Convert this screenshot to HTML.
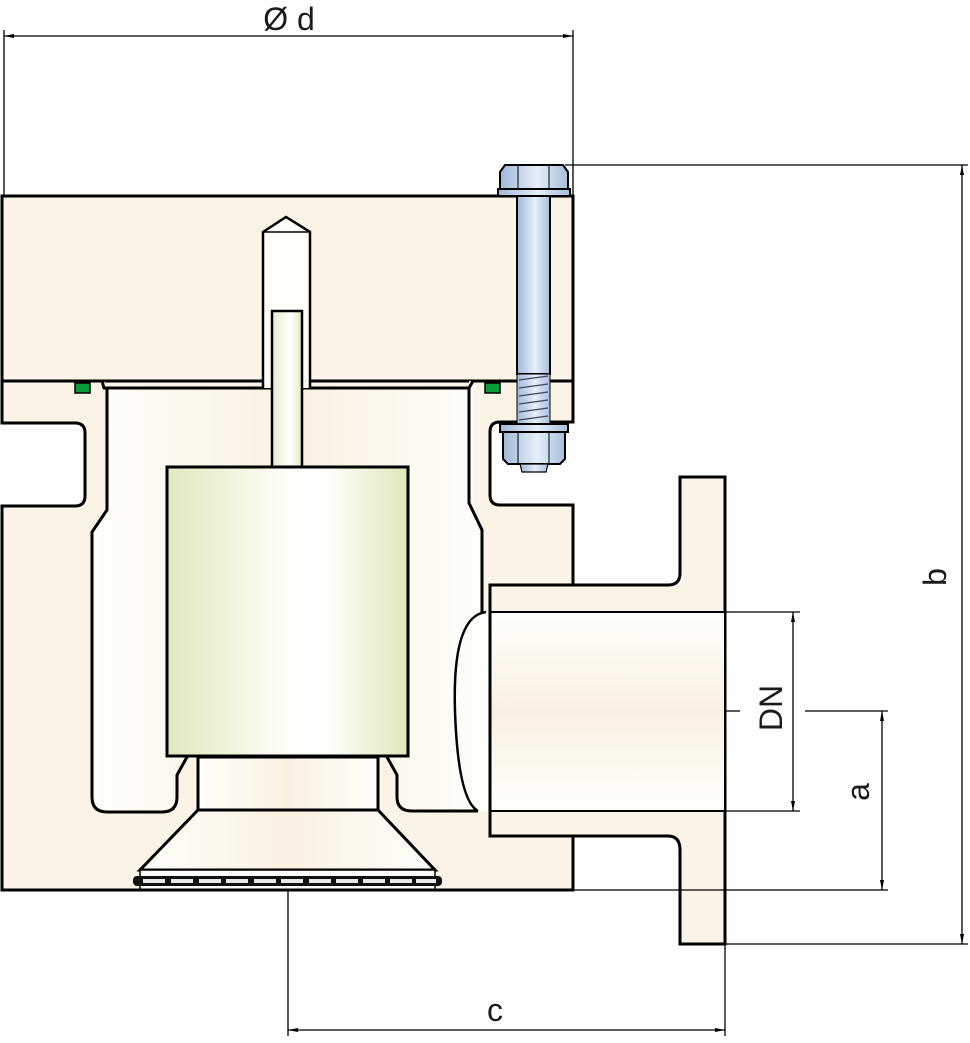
<!DOCTYPE html>
<html><head><meta charset="utf-8"><style>
html,body{margin:0;padding:0;background:#fff;}
svg{display:block;}
text{font-family:"Liberation Sans",sans-serif;fill:#1a1a1a;}
</style></head><body>
<svg width="970" height="1043" viewBox="0 0 970 1043" xmlns="http://www.w3.org/2000/svg">
<defs>
<radialGradient id="cav" cx="0.5" cy="0.45" r="0.6">
<stop offset="0" stop-color="#f8efdf"/><stop offset="1" stop-color="#fffefb"/></radialGradient>
<linearGradient id="cavh" x1="0" x2="1" y1="0" y2="0">
<stop offset="0" stop-color="#fffefb"/><stop offset="0.5" stop-color="#f9f0e0"/><stop offset="1" stop-color="#fffefb"/></linearGradient>
<linearGradient id="bore" x1="0" x2="0" y1="0" y2="1">
<stop offset="0" stop-color="#fffefb"/><stop offset="0.5" stop-color="#f9f0e0"/><stop offset="1" stop-color="#fffefb"/></linearGradient>
<linearGradient id="grn" x1="0" x2="1" y1="0" y2="0">
<stop offset="0" stop-color="#e0e9bc"/><stop offset="0.5" stop-color="#fdfef8"/><stop offset="0.65" stop-color="#ffffff"/><stop offset="1" stop-color="#dfe8b8"/></linearGradient>
<linearGradient id="rod" x1="0" x2="1" y1="0" y2="0">
<stop offset="0" stop-color="#e6edc8"/><stop offset="0.6" stop-color="#ffffff"/><stop offset="1" stop-color="#e2eac0"/></linearGradient>
<linearGradient id="bolt" x1="0" x2="1" y1="0" y2="0">
<stop offset="0" stop-color="#9fb7d8"/><stop offset="0.55" stop-color="#e6eff9"/><stop offset="1" stop-color="#a6bddb"/></linearGradient>
</defs>

<!-- top cover -->
<rect x="2" y="196" width="571" height="185" fill="#faf3e6" stroke="#000" stroke-width="3"/>

<!-- body -->
<path d="M2,381 H573 V422 H500 Q490,422 490,432 V495 Q490,505 500,505 H573 V585 H490 V836 H573 V890 H2 V506 H75 Q85,506 85,496 V433 Q85,423 75,423 H2 Z" fill="#faf3e6" stroke="#000" stroke-width="3"/>

<!-- cavity -->
<path d="M104,381 V388 H469 V381 H473 V503 L482,530 V612 H490 V811 H475 H410 Q397,811 397,797 V775 L387,757 H187 L177,775 V797 Q177,812 162,812 H107 Q92,812 92,797 V532 L107,510 V388" fill="url(#cavh)" stroke="none"/>
<path d="M102,381 L104,388 H469 L473,381" fill="none" stroke="#000" stroke-width="3"/>
<path d="M107,388 V510 L92,532 V797 Q92,812 107,812 H162 Q177,812 177,797 V775 L187,757" fill="none" stroke="#000" stroke-width="3"/>
<path d="M469,388 V503 L482,530 V612" fill="none" stroke="#000" stroke-width="3"/>
<path d="M387,757 L397,775 V797 Q397,811 412,811 H478" fill="none" stroke="#000" stroke-width="3"/>
<path d="M486,612 Q452,616 455,711 Q458,800 478,811" fill="none" stroke="#000" stroke-width="2.5"/>

<!-- seals -->
<rect x="75" y="383" width="15" height="10" fill="#0a9a3a" stroke="#000" stroke-width="1.5"/>
<rect x="485" y="383" width="15" height="10" fill="#0a9a3a" stroke="#000" stroke-width="1.5"/>

<!-- flange + pipe -->
<path d="M490,585 H668 Q680,585 680,573 V477 H725 V944 H680 V850 Q680,836 668,836 H490 Z" fill="#faf3e6" stroke="#000" stroke-width="3"/>
<rect x="490" y="612" width="235" height="199" fill="url(#bore)" stroke="#000" stroke-width="2"/>
<line x1="490" y1="585" x2="490" y2="836" stroke="#000" stroke-width="3"/>

<!-- center stem bore -->
<path d="M263,388 V232 L286,217 L310,232 V388" fill="#fffdf8" stroke="#000" stroke-width="2.5"/>
<line x1="263" y1="232" x2="310" y2="232" stroke="#000" stroke-width="1.5"/>
<rect x="272" y="311" width="30" height="158" fill="url(#rod)" stroke="#000" stroke-width="2.5"/>

<!-- cylinder -->
<rect x="167" y="467" width="241" height="289" fill="url(#grn)" stroke="#000" stroke-width="3"/>
<rect x="226" y="756" width="124" height="3" fill="#000"/>
<rect x="271" y="757" width="33" height="13" fill="#fff" stroke="#000" stroke-width="2"/>
<line x1="278" y1="757" x2="278" y2="770" stroke="#000" stroke-width="1"/>
<line x1="297" y1="757" x2="297" y2="770" stroke="#000" stroke-width="1"/>

<!-- cone -->
<rect x="198" y="757" width="180" height="53" fill="url(#cavh)" stroke="#000" stroke-width="3"/>
<path d="M198,810 H378 L435,870 H140 Z" fill="url(#cavh)" stroke="#000" stroke-width="3"/>
<rect x="140" y="870" width="295" height="20" fill="#fff" stroke="#000" stroke-width="1.5"/>
<rect x="133" y="876" width="309" height="10" rx="4" fill="#111"/>
<g fill="#e8e8e8">
<rect x="143" y="879" width="22" height="4"/><rect x="171" y="879" width="22" height="4"/><rect x="199" y="879" width="22" height="4"/><rect x="226" y="879" width="22" height="4"/><rect x="254" y="879" width="22" height="4"/><rect x="281" y="879" width="22" height="4"/><rect x="309" y="879" width="22" height="4"/><rect x="336" y="879" width="22" height="4"/><rect x="363" y="879" width="22" height="4"/><rect x="390" y="879" width="22" height="4"/><rect x="416" y="879" width="20" height="4"/>
</g>
<line x1="2" y1="890" x2="573" y2="890" stroke="#000" stroke-width="3"/>

<!-- bolt -->
<rect x="517" y="196" width="33" height="178" fill="url(#bolt)" stroke="#000" stroke-width="2"/>
<rect x="517" y="374" width="33" height="50" fill="url(#bolt)" stroke="#000" stroke-width="1"/>
<g stroke="#445" stroke-width="1.2" fill="none">
<path d="M519,380 L548,376 M519,388 L548,384 M519,396 L548,392 M519,404 L548,400 M519,412 L548,408 M519,420 L548,416"/>
</g>
<path d="M505,165 H563 L568,172 V189 H500 V172 Z" fill="url(#bolt)" stroke="#000" stroke-width="2"/>
<line x1="518" y1="166" x2="518" y2="189" stroke="#000" stroke-width="1"/>
<line x1="549" y1="166" x2="549" y2="189" stroke="#000" stroke-width="1"/>
<rect x="498" y="189" width="72" height="7" fill="url(#bolt)" stroke="#000" stroke-width="2"/>
<rect x="500" y="424" width="68" height="8" fill="url(#bolt)" stroke="#000" stroke-width="2"/>
<path d="M503,432 H565 V459 L560,464 H508 L503,459 Z" fill="url(#bolt)" stroke="#000" stroke-width="2"/>
<line x1="518" y1="432" x2="518" y2="464" stroke="#000" stroke-width="1"/>
<line x1="549" y1="432" x2="549" y2="464" stroke="#000" stroke-width="1"/>
<path d="M520,464 H548 L546,472 H522 Z" fill="url(#bolt)" stroke="#000" stroke-width="1.2"/>
<line x1="573" y1="196" x2="573" y2="422" stroke="#000" stroke-width="3"/>

<!-- dimensions -->
<g stroke="#000" stroke-width="1.3" fill="none">
<line x1="4" y1="30" x2="4" y2="196"/>
<line x1="573" y1="30" x2="573" y2="196"/>
<line x1="4" y1="36" x2="573" y2="36"/>
<line x1="565" y1="165" x2="968" y2="165"/>
<line x1="725" y1="944" x2="968" y2="944"/>
<line x1="962" y1="165" x2="962" y2="944"/>
<line x1="725" y1="612" x2="800" y2="612"/>
<line x1="725" y1="811" x2="800" y2="811"/>
<line x1="793" y1="612" x2="793" y2="811"/>
<line x1="725" y1="711" x2="740" y2="711"/>
<line x1="805" y1="711" x2="888" y2="711"/>
<line x1="573" y1="890" x2="888" y2="890"/>
<line x1="882" y1="711" x2="882" y2="890"/>
<line x1="288" y1="890" x2="288" y2="1036"/>
<line x1="725" y1="944" x2="725" y2="1036"/>
<line x1="288" y1="1030" x2="725" y2="1030"/>
</g>
<g fill="#000">
<path d="M4,36 l10,-2 v4 z"/><path d="M573,36 l-10,-2 v4 z"/>
<path d="M962,165 l-2,10 h4 z"/><path d="M962,944 l-2,-10 h4 z"/>
<path d="M793,612 l-2,10 h4 z"/><path d="M793,811 l-2,-10 h4 z"/>
<path d="M882,711 l-2,10 h4 z"/><path d="M882,890 l-2,-10 h4 z"/>
<path d="M288,1030 l10,-2 v4 z"/><path d="M725,1030 l-10,-2 v4 z"/>
</g>
<text x="289" y="30" font-size="32" text-anchor="middle">Ø d</text>
<text x="495" y="1021" font-size="32" text-anchor="middle">c</text>
<text transform="translate(946,577) rotate(-90)" font-size="32" text-anchor="middle">b</text>
<text transform="translate(869,792) rotate(-90)" font-size="32" text-anchor="middle">a</text>
<text transform="translate(782,708) rotate(-90)" font-size="32" text-anchor="middle">DN</text>
</svg>
</body></html>
